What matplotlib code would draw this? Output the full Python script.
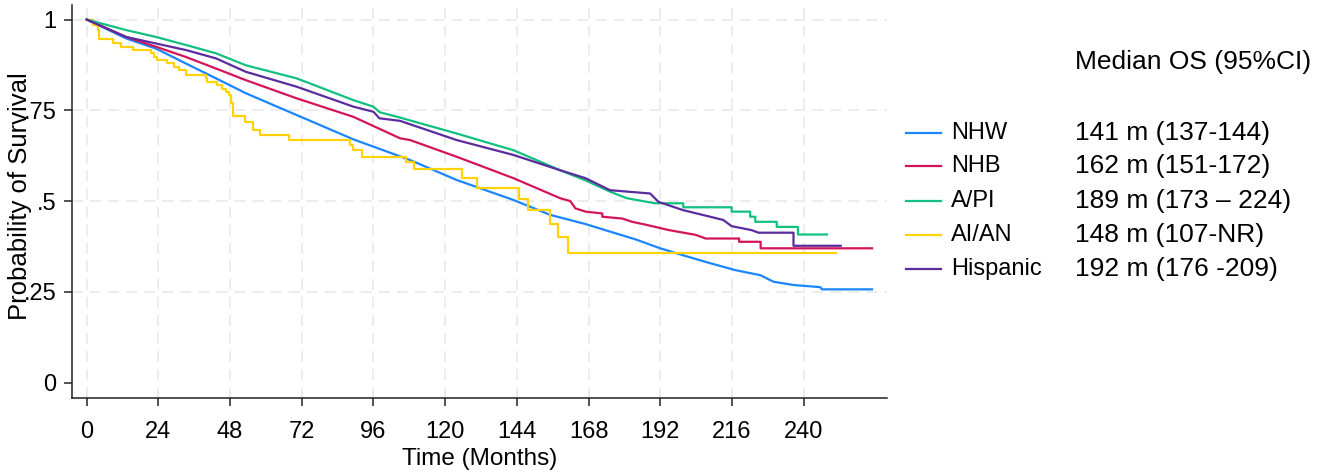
import matplotlib
matplotlib.use("Agg")
import matplotlib.pyplot as plt
from matplotlib.lines import Line2D

plt.rcParams['font.family'] = ['Liberation Sans', 'DejaVu Sans']

# ---------------- data ----------------
groups = ["NHW", "NHB", "A/PI", "AI/AN", "Hispanic"]
colors = ["#1a86ff", "#d4145a", "#12c180", "#ffd20a", "#5a2c9e"]
median_text = ["141 m (137-144)", "162 m (151-172)", "189 m (173 \u2013 224)",
               "148 m (107-NR)", "192 m (176 -209)"]
header_text = "Median OS (95%CI)"

nhw_t = [0, 13.2, 23.2, 33.2, 43.3, 53.3, 70.3, 89.3, 108.3, 123.9, 142.9, 155.2,
         166.9, 175.2, 183.6, 192, 200.4, 208.7, 217.1, 225.5, 229.9, 236.6, 245.6,
         246.1, 262.9]
nhw_s = [1.0, 0.948, 0.920, 0.879, 0.838, 0.797, 0.737, 0.670, 0.613, 0.558, 0.503,
         0.462, 0.437, 0.416, 0.395, 0.370, 0.349, 0.329, 0.310, 0.296, 0.278, 0.269,
         0.263, 0.257, 0.257]

nhb_t = [0, 13.2, 23.2, 33.2, 43.3, 53.3, 70.3, 89.3, 104.9, 108.3, 123.9, 142.9,
         158.5, 161.9, 163.6, 167, 172.6, 172.6, 179.3, 182.6, 187.7, 195, 203.9,
         207.2, 218.4, 218.4, 225.6, 225.6, 262.9]
nhb_s = [1.0, 0.952, 0.925, 0.897, 0.865, 0.833, 0.783, 0.732, 0.673, 0.668, 0.622,
         0.563, 0.508, 0.500, 0.480, 0.471, 0.466, 0.457, 0.452, 0.443, 0.434, 0.420,
         0.407, 0.397, 0.397, 0.388, 0.388, 0.370, 0.370]

api_t = [0, 13.2, 23.2, 33.2, 43.3, 53.3, 70.3, 89.3, 96, 98, 104.9, 123.9, 142.9,
         158.5, 167, 175.2, 180.8, 190.3, 199.7, 199.7, 215.9, 215.9, 222.1, 222.1,
         223.8, 223.8, 231, 231, 238.1, 238.1, 247.8]
api_s = [1.0, 0.971, 0.952, 0.930, 0.907, 0.874, 0.838, 0.778, 0.760, 0.745, 0.730,
         0.686, 0.640, 0.585, 0.557, 0.526, 0.508, 0.494, 0.494, 0.483, 0.483, 0.471,
         0.471, 0.457, 0.457, 0.443, 0.443, 0.429, 0.429, 0.408, 0.408]

hisp_t = [0, 13.2, 23.2, 33.2, 43.3, 53.3, 70.3, 89.3, 96, 98, 104.9, 123.9, 142.9,
          158.5, 167, 175.2, 188.6, 191.4, 199.7, 208.7, 213.1, 215.9, 222.6, 224.9,
          236.6, 236.6, 252.4]
hisp_s = [1.0, 0.952, 0.934, 0.916, 0.893, 0.856, 0.815, 0.760, 0.746, 0.728, 0.721,
          0.668, 0.627, 0.585, 0.563, 0.530, 0.521, 0.498, 0.475, 0.457, 0.448, 0.431,
          0.420, 0.413, 0.413, 0.377, 0.377]

aian_t = [0, 2.2, 3.7, 4.2, 8.7, 11.6, 15.4, 21.4, 22.6, 23.7, 27, 29.2, 30.9, 33.1,
          39.8, 40.4, 43.7, 45.4, 46.5, 47.6, 48.2, 48.9, 52.9, 55.7, 57.9, 67.9,
          88.2, 89.3, 92.1, 106.8, 109.6, 125.8, 130.8, 144.8, 147.8, 155.2, 157.9,
          161.1, 250.9]
aian_s = [1.0, 0.985, 0.971, 0.946, 0.934, 0.925, 0.916, 0.907, 0.897, 0.888, 0.879,
          0.870, 0.861, 0.847, 0.838, 0.829, 0.819, 0.810, 0.801, 0.792, 0.769, 0.734,
          0.718, 0.696, 0.682, 0.668, 0.654, 0.640, 0.622, 0.608, 0.588, 0.564, 0.535,
          0.505, 0.475, 0.437, 0.402, 0.356, 0.356]

x_ticks = [0, 24, 48, 72, 96, 120, 144, 168, 192, 216, 240]
y_ticks = [0, 0.25, 0.5, 0.75, 1]
y_ticklabels = ["0", ".25", ".5", ".75", "1"]

# ---------------- figure ----------------
W, H = 1326, 473
fig = plt.figure(figsize=(W / 100, H / 100), dpi=100)
ax = fig.add_axes([71.7 / W, 1 - 398.3 / H, (887.3 - 71.7) / W, (398.3 - 5) / H])

grid_kw = dict(color="#ebebeb", lw=1.3, ls=(0, (6, 4)), zorder=0)
for xt in x_ticks:
    ax.axvline(xt, **grid_kw)
for yt in y_ticks[1:]:
    ax.axhline(yt, **grid_kw)

series = [(nhw_t, nhw_s), (nhb_t, nhb_s), (api_t, api_s), (aian_t, aian_s), (hisp_t, hisp_s)]
draw_order = [0, 3, 1, 2, 4]
for i in draw_order:
    t, s = series[i]
    if groups[i] == "AI/AN":
        ax.plot(t, s, color=colors[i], lw=1.6, drawstyle="steps-post", zorder=3)
    else:
        ax.plot(t, s, color=colors[i], lw=1.6, zorder=3)

ax.set_xlim(-5.0, 268)
ax.set_ylim(-0.043, 1.04)
ax.set_xticks(x_ticks)
ax.set_yticks(y_ticks)
ax.set_yticklabels(y_ticklabels)
for sp in ["top", "right"]:
    ax.spines[sp].set_visible(False)
for sp in ["left", "bottom"]:
    ax.spines[sp].set_color("#222222")
    ax.spines[sp].set_linewidth(1.1)
ax.tick_params(axis="both", direction="out", length=6, width=1.1, color="#222222",
               labelsize=17)
ax.tick_params(axis="x", pad=10)
ax.tick_params(axis="y", pad=5)
ax.set_xlabel("Time (Months)", fontsize=17.5, labelpad=4)
ax.set_ylabel("Probability of Survival", fontsize=18.5)
ax.yaxis.set_label_coords(-0.049, 0.513)

# ---------------- legend / median table ----------------
row_y = [133, 166.5, 201, 235, 269]
for i, g in enumerate(groups):
    yf = 1 - row_y[i] / H
    fig.add_artist(Line2D([906 / W, 941 / W], [yf, yf], color=colors[i], lw=1.6,
                          transform=fig.transFigure))
    fig.text(951 / W, yf, g, fontsize=17, va="center", ha="left")
    fig.text(1075 / W, yf, median_text[i], fontsize=19, va="center", ha="left")
fig.text(1075 / W, 1 - 62 / H, header_text, fontsize=19, va="center", ha="left")

fig.savefig("out.png", dpi=100)
